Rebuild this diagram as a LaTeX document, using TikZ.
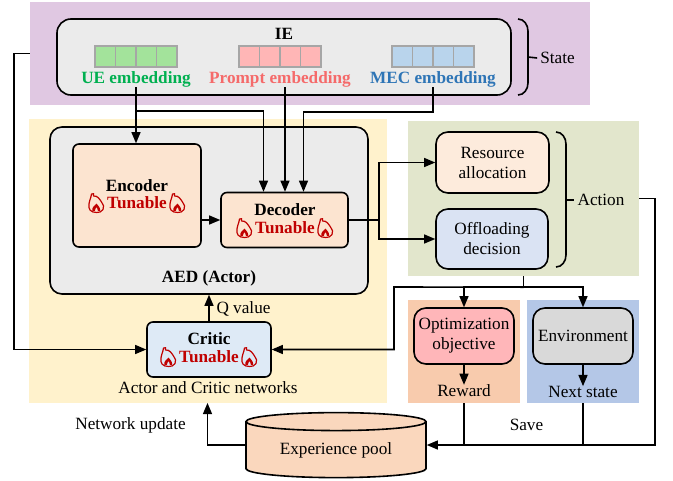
\documentclass[tikz,border=0pt]{standalone}
\usepackage{fontspec}
\setmainfont{Liberation Serif}
\usetikzlibrary{arrows,shapes.geometric}
\definecolor{statebg}{HTML}{E0C8E2}
\definecolor{actorbg}{HTML}{FFF2CC}
\definecolor{actionbg}{HTML}{E2E6CC}
\definecolor{rewardbg}{HTML}{F8CBAD}
\definecolor{nextbg}{HTML}{B4C7E7}
\definecolor{greybox}{HTML}{EBEBEB}
\definecolor{peachbox}{HTML}{FCE4D0}
\definecolor{bluebox}{HTML}{DEEAF6}
\definecolor{offbox}{HTML}{DAE3F3}
\definecolor{pinkbox}{HTML}{FFB6B9}
\definecolor{envbox}{HTML}{D9D9D9}
\definecolor{poolfill}{HTML}{FAD7BD}
\definecolor{tunered}{HTML}{C00000}
\definecolor{uegreen}{HTML}{A3E39B}
\definecolor{uetext}{HTML}{00B050}
\definecolor{promptpink}{HTML}{FFB6B6}
\definecolor{prompttext}{HTML}{F56A6A}
\definecolor{mecblue}{HTML}{B9D4EC}
\definecolor{mectext}{HTML}{2E75B6}
\tikzset{
  panel/.style={rectangle,inner sep=0pt},
  main box/.style={rectangle,draw,rounded corners=12pt,line width=1.6pt,inner sep=0pt,align=center},
  sub box/.style={main box,rounded corners=6pt},
  label text/.style={inner sep=0pt,align=center},
  bold text/.style={label text,font=\fontsize{17.2}{20}\selectfont\bfseries},
  link/.style={line width=1.6pt,-triangle 45},
  plain link/.style={line width=1.6pt},
  flame/.pic={
    \draw[tunered,line width=1.2pt,line join=round]
      (0,9.5) .. controls (-6,9.5) and (-8.5,6) .. (-7.5,1)
      .. controls (-7,-3) and (-5.5,-5) .. (-5,-9)
      .. controls (-3.5,-10.5) and (-1.5,-9) .. (-3,-7)
      .. controls (1,-7.5) and (3,-4) .. (5,-1)
      .. controls (7,1.5) and (8,4) .. (6.5,6.5)
      .. controls (5,9) and (3,9.5) .. (0,9.5);
    \fill[tunered] (-4.2,7.8) .. controls (-4.8,4) and (-2,3) .. (0,0.5)
      .. controls (1.2,3) and (4.2,4) .. (3.6,7.8) -- (1.4,7.8)
      .. controls (1.6,5.5) and (0.2,5) .. (-0.5,4.2)
      .. controls (-1.2,5.5) and (-2,6) .. (-1.6,7.8) -- cycle;
  }
}
\begin{document}
\begin{tikzpicture}[x=1pt,y=-1pt,every node/.style={font=\fontsize{17.2}{20}\selectfont}]
  \useasboundingbox (0,0) rectangle (673,480);
  % background panels
  \node[panel,fill=statebg,minimum width=560pt,minimum height=103pt] (statepanel) at (310,53.5) {};
  \node[panel,fill=actorbg,minimum width=358pt,minimum height=284pt] (actorpanel) at (208,261) {};
  \node[panel,fill=actionbg,minimum width=231pt,minimum height=155pt] (actionpanel) at (523.5,198.5) {};
  \node[panel,fill=rewardbg,minimum width=112pt,minimum height=103pt] (rewardpanel) at (464,351.5) {};
  \node[panel,fill=nextbg,minimum width=112pt,minimum height=103pt] (nextpanel) at (583,351.5) {};

  \node[main box,fill=greybox,minimum width=454pt,minimum height=76pt,rounded corners=14pt] (ie) at (284,57) {};
  \node[bold text] (ielabel) at (284,34) {IE};
  \foreach \emb/\tx/\bx/\cellcol/\txtcol/\txt in {ue/136/95/uegreen/uetext/UE embedding,
      prompt/280/239/promptpink/prompttext/Prompt embedding,mec/433/392/mecblue/mectext/MEC embedding}{
    \foreach \i in {0,1,2,3}
      \node[panel,draw=black!35,line width=1.5pt,fill=\cellcol,minimum width=20.5pt,minimum height=21pt]
        (\emb cell\i) at (\bx+10.25+20.5*\i,56.5) {};
    \node[bold text,text=\txtcol] (\emb text) at (\tx,79) {\txt};
  }

  \node[main box,fill=greybox,minimum width=318pt,minimum height=167pt] (aed) at (209,210.5) {};
  \node[bold text] (aedlabel) at (209,278) {AED (Actor)};
  \node[sub box,fill=peachbox,minimum width=128pt,minimum height=103pt] (encoder) at (137,195.5) {};
  \node[sub box,fill=peachbox,minimum width=127pt,minimum height=55pt] (decoder) at (284.5,220) {};
  \node[sub box,fill=bluebox,minimum width=124pt,minimum height=55pt] (critic) at (209,349.5) {};
  \node[bold text] (enclabel) at (137,186) {Encoder};
  \node[bold text] (declabel) at (285,210) {Decoder};
  \node[bold text] (critlabel) at (209,339) {Critic};
  \foreach \tn/\tx/\ty in {enctune/137/203,dectune/285/228,crittune/209/357}{
    \node[bold text,text=tunered] (\tn) at (\tx,\ty) {Tunable};
    \path (\tn) ++(-40.5,0) pic {flame};
    \path (\tn) ++(40.5,0) pic {flame};
  }

  \node[main box,fill=peachbox!75!white,minimum width=113pt,minimum height=61pt] (resource) at (492.5,162.5) {Resource\\allocation};
  \node[main box,fill=offbox,minimum width=112pt,minimum height=60pt] (offload) at (492,239) {Offloading\\decision};
  \node[main box,fill=pinkbox,minimum width=100pt,minimum height=56pt] (objective) at (464,336) {Optimization\\objective};
  \node[main box,fill=envbox,minimum width=100pt,minimum height=56pt] (environment) [right of=objective,node distance=119pt] {Environment};

  \node[label text] (qlabel) at (243.5,309) {Q value};
  \node[label text] (netlabel) at (208,388) {Actor and Critic networks};
  \node[label text] (statelabel) at (557.5,58) {State};
  \node[label text] (actionlabel) at (601,200) {Action};
  \node[label text] (rewardlabel) at (464,391) {Reward};
  \node[label text] (nextlabel) at (583,392) {Next state};
  \node[label text] (updatelabel) at (130.5,425) {Network update};
  \node[label text] (savelabel) at (526.5,425) {Save};

  \node[cylinder,draw,line width=1.6pt,fill=poolfill,shape border rotate=90,aspect=0.16,
    minimum width=180pt,minimum height=65pt,inner sep=0pt] (pool) at (336,450) {\raisebox{3pt}{Experience pool}};
  \coordinate (poolin) at ([yshift=5pt]pool.east);
  \coordinate (poolout) at ([yshift=5pt]pool.west);

  % braces
  \draw[plain link] (518,19) to[out=0,in=90] (528,31) -- (528,83) to[out=-90,in=0] (518,95);
  \draw[plain link] (528,57) -- ([xshift=-3pt]statelabel.west);
  \draw[plain link] (556,132) to[out=0,in=90] (566,144) -- (566,255) to[out=-90,in=0] (556,267);
  \draw[plain link] (566,200) -- ([xshift=-3pt]actionlabel.west);

  % connectors
  \coordinate (uesplit) at (136,111);
  \coordinate (mecbend) at (433,112);
  \draw[link] (uetext.south) -- (uetext.south |- encoder.north);
  \draw[link] (uesplit) -| ([xshift=-21pt]decoder.north);
  \draw[link] (prompttext.south -| declabel) -- (decoder.north -| declabel);
  \draw[link] (mectext.south) -- (mecbend) -| ([xshift=19pt]decoder.north);
  \draw[link] (encoder.east |- decoder.west) -- (decoder.west);
  \coordinate (decsplit) at (379,220);
  \draw[plain link] (decoder.east) -- (decsplit);
  \draw[link] (decsplit) |- (resource.west);
  \draw[link] (decsplit) |- (offload.west);
  \draw[link] (critic.north) -- (critic.north |- aed.south);
  \draw[link] (statepanel.west) -- ++(-16,0) |- (critic.west);
  \draw[plain link] (actionpanel.south) -- ++(0,11) coordinate (actsplit);
  \draw[link] (actsplit) -| (objective.north);
  \draw[link] (actsplit) -| (environment.north);
  \coordinate (critbend) at (394,287);
  \draw[link] (actsplit) -- (critbend) |- (critic.east);
  \draw[link] (objective.south) -- (rewardlabel.north);
  \draw[link] (environment.south) -- (nextlabel.north);
  \draw[plain link] (rewardpanel.south) -- (rewardpanel.south |- poolin);
  \draw[plain link] (nextpanel.south) -- (nextpanel.south |- poolin);
  \coordinate (savebend) at (655,198.5);
  \draw[link] (actionpanel.east) -- (savebend) |- (poolin);
  \coordinate (updatetip) at (207.5,403);
  \draw[link] (poolout) -| (updatetip);
\end{tikzpicture}
\end{document}
